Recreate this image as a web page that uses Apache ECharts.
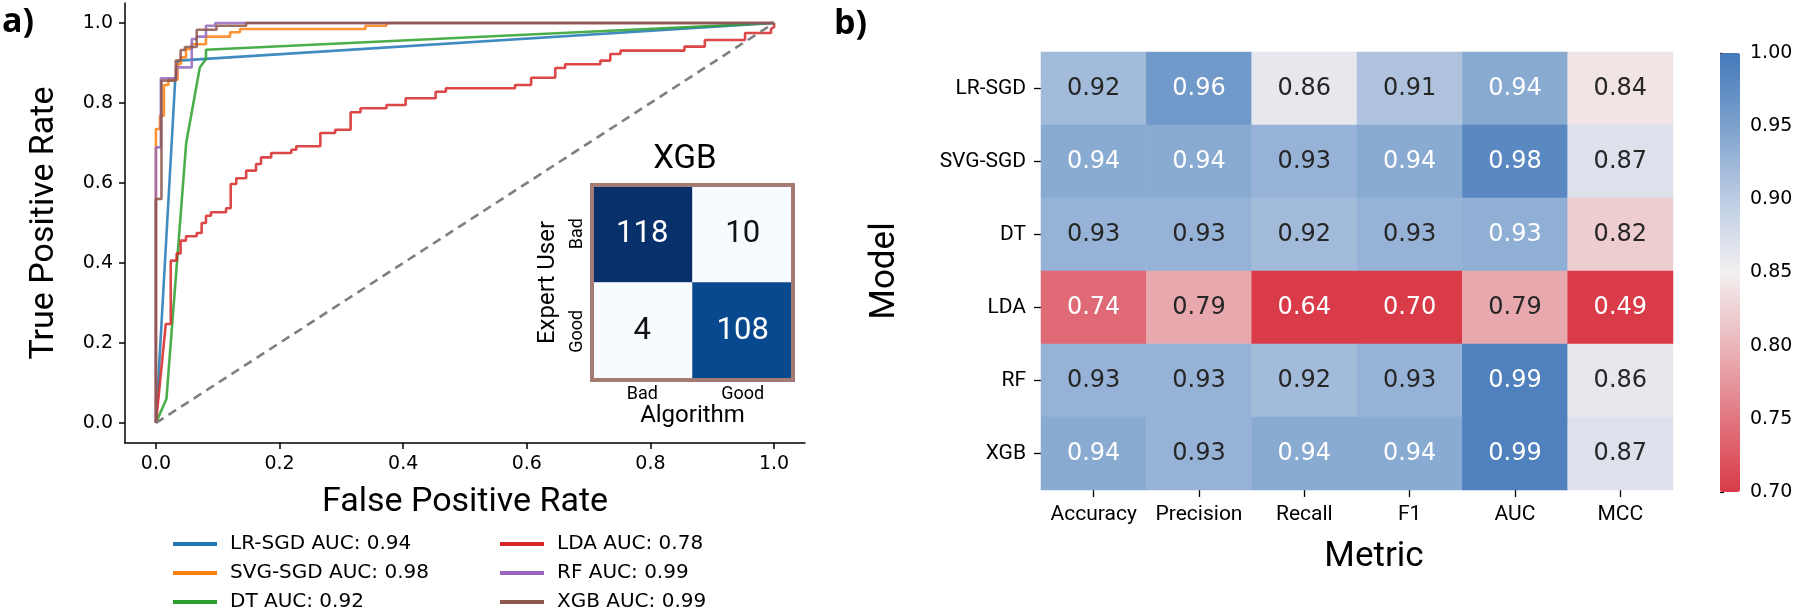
<!DOCTYPE html>
<html><head><meta charset="utf-8">
<script src="https://cdn.jsdelivr.net/npm/echarts@6/dist/echarts.min.js"></script>
<style>html,body{margin:0;padding:0;background:#fff}#c{width:1800px;height:613px}</style>
</head><body><div id="c"></div>
<script>
// ---------- ROC data (fpr / tpr vertices) ----------
const rocModels = ['LR-SGD', 'SVG-SGD', 'DT', 'LDA', 'RF', 'XGB'];
const rocAuc = [0.94, 0.98, 0.92, 0.78, 0.99, 0.99];
const rocTicks = [0, 0.2, 0.4, 0.6, 0.8, 1.0];

const lrSgdFpr = [0, 0.031, 0.036, 1];
const lrSgdTpr = [0, 0.852, 0.906, 1];

const svgSgdFpr = [0, 0, 0.0065, 0.0065, 0.013, 0.013, 0.02, 0.02, 0.035, 0.035, 0.0405, 0.0405, 0.0487, 0.0487, 0.058, 0.058, 0.081, 0.081, 0.12, 0.12, 0.136, 0.136, 0.339, 0.339, 0.373, 0.373, 1];
const svgSgdTpr = [0, 0.735, 0.735, 0.768, 0.768, 0.845, 0.845, 0.858, 0.858, 0.8975, 0.8975, 0.914, 0.914, 0.935, 0.935, 0.947, 0.947, 0.966, 0.966, 0.977, 0.977, 0.985, 0.985, 0.993, 0.993, 1.0, 1];

const dtFpr = [0, 0.017, 0.049, 0.071, 0.081, 0.081, 1];
const dtTpr = [0, 0.06, 0.70, 0.889, 0.91, 0.933, 1];

const ldaFpr = [0, 0.016, 0.024, 0.024, 0.0335, 0.0335, 0.040, 0.040, 0.0487, 0.0487, 0.066, 0.066, 0.074, 0.074, 0.081, 0.081, 0.089, 0.089, 0.1135, 0.1135, 0.121, 0.121, 0.13, 0.13, 0.146, 0.146, 0.162, 0.162, 0.170, 0.170, 0.1865, 0.1865, 0.219, 0.219, 0.227, 0.227, 0.266, 0.266, 0.290, 0.290, 0.315, 0.315, 0.331, 0.331, 0.373, 0.373, 0.404, 0.404, 0.4525, 0.4525, 0.469, 0.469, 0.581, 0.581, 0.607, 0.607, 0.646, 0.646, 0.662, 0.662, 0.719, 0.719, 0.735, 0.735, 0.7515, 0.7515, 0.855, 0.855, 0.888, 0.888, 0.953, 0.953, 0.995, 0.995, 1.0, 1.0];
const ldaTpr = [0, 0.2475, 0.2475, 0.406, 0.406, 0.424, 0.424, 0.456, 0.456, 0.467, 0.467, 0.475, 0.475, 0.5, 0.5, 0.518, 0.518, 0.527, 0.527, 0.537, 0.537, 0.5975, 0.5975, 0.612, 0.612, 0.631, 0.631, 0.6475, 0.6475, 0.664, 0.664, 0.675, 0.675, 0.683, 0.683, 0.692, 0.692, 0.725, 0.725, 0.733, 0.733, 0.777, 0.777, 0.787, 0.787, 0.795, 0.795, 0.812, 0.812, 0.828, 0.828, 0.837, 0.837, 0.845, 0.845, 0.863, 0.863, 0.8875, 0.8875, 0.897, 0.897, 0.906, 0.906, 0.9225, 0.9225, 0.931, 0.931, 0.941, 0.941, 0.9575, 0.9575, 0.975, 0.975, 0.985, 0.99, 1.0];

const rfFpr = [0, 0, 0.008, 0.008, 0.033, 0.033, 0.058, 0.058, 0.066, 0.066, 0.081, 0.081, 0.096, 0.096, 1];
const rfTpr = [0, 0.689, 0.689, 0.862, 0.862, 0.889, 0.889, 0.96, 0.96, 0.966, 0.966, 0.993, 0.993, 1.0, 1];

const xgbFpr = [0, 0, 0.009, 0.009, 0.032, 0.032, 0.040, 0.040, 0.047, 0.047, 0.066, 0.066, 0.098, 0.098, 0.146, 0.146, 1];
const xgbTpr = [0, 0.56, 0.56, 0.856, 0.856, 0.906, 0.906, 0.9325, 0.9325, 0.94, 0.94, 0.983, 0.983, 0.993, 0.993, 1.0, 1];

const chanceFpr = [0, 1];
const chanceTpr = [0, 1];

// ---------- Confusion matrix (XGB) ----------
const cmAlgorithmLabels = ['Bad', 'Good'];
const cmExpertLabels = ['Bad', 'Good'];
const cmRowBad = [118, 10];
const cmRowGood = [4, 108];

// ---------- Heatmap ----------
const metrics = ['Accuracy', 'Precision', 'Recall', 'F1', 'AUC', 'MCC'];
const models = ['LR-SGD', 'SVG-SGD', 'DT', 'LDA', 'RF', 'XGB'];
const scoresLrSgd = [0.92, 0.96, 0.86, 0.91, 0.94, 0.84];
const scoresSvgSgd = [0.94, 0.94, 0.93, 0.94, 0.98, 0.87];
const scoresDt = [0.93, 0.93, 0.92, 0.93, 0.934, 0.82];
const scoresLda = [0.74, 0.79, 0.64, 0.70, 0.79, 0.49];
const scoresRf = [0.93, 0.93, 0.92, 0.93, 0.99, 0.86];
const scoresXgb = [0.94, 0.93, 0.94, 0.94, 0.99, 0.87];
const colorbarTicks = [0.70, 0.75, 0.80, 0.85, 0.90, 0.95, 1.00];

// ---------- build ----------
const pairs = (f, t) => f.map((x, i) => [x, t[i]]);
const rocData = [pairs(lrSgdFpr, lrSgdTpr), pairs(svgSgdFpr, svgSgdTpr), pairs(dtFpr, dtTpr),
                 pairs(ldaFpr, ldaTpr), pairs(rfFpr, rfTpr), pairs(xgbFpr, xgbTpr)];
const rocColors = ['#1f77b4', '#ff7f0e', '#2ca02c', '#d62728', '#9467bd', '#8c564b'];
const rocNames = rocModels.map((m, i) => m + ' AUC: ' + rocAuc[i].toFixed(2));

const scoreRows = [scoresLrSgd, scoresSvgSgd, scoresDt, scoresLda, scoresRf, scoresXgb];
const heatData = [];
scoreRows.forEach((row, r) => row.forEach((v, c) => heatData.push([c, r, v])));
const cmRows = [cmRowBad, cmRowGood];
const cmData = [];
cmRows.forEach((row, r) => row.forEach((v, c) => cmData.push([c, r, v])));

const series = rocData.map((d, i) => ({
  type: 'line', name: rocNames[i], xAxisIndex: 0, yAxisIndex: 0, data: d,
  symbol: 'none', showSymbol: false, animation: false,
  lineStyle: { width: 2.6, color: rocColors[i], opacity: 0.85 },
  itemStyle: { color: rocColors[i] }, z: 2 + i
}));
series.push({
  type: 'line', name: 'chance', xAxisIndex: 0, yAxisIndex: 0, data: pairs(chanceFpr, chanceTpr),
  symbol: 'none', animation: false, z: 9,
  lineStyle: { width: 2.6, color: '#7f7f7f', type: [9, 6] }
});
const heatIdx = series.length;
series.push({
  type: 'heatmap', xAxisIndex: 1, yAxisIndex: 1, data: heatData, animation: false,
  label: {
    show: true,
    formatter: p => {
      const v = p.value[2];
      return (v >= 0.934 || v <= 0.76 ? '{w|' : '{d|') + v.toFixed(2) + '}';
    },
    rich: {
      w: { color: '#ffffff', fontFamily: 'DejaVu Sans', fontSize: 24 },
      d: { color: '#262626', fontFamily: 'DejaVu Sans', fontSize: 24 }
    }
  },
  emphasis: { disabled: true }
});
const cmIdx = series.length;
series.push({
  type: 'heatmap', xAxisIndex: 3, yAxisIndex: 3, data: cmData, animation: false,
  label: {
    show: true,
    formatter: p => (p.value[2] > 60 ? '{w|' : '{d|') + p.value[2] + '}',
    rich: {
      w: { color: '#ffffff', fontFamily: 'Roboto', fontSize: 31 },
      d: { color: '#111111', fontFamily: 'Roboto', fontSize: 31 }
    }
  },
  emphasis: { disabled: true }
});

const blackLine = { color: '#000', width: 1.5 };
const legendText = { fontFamily: 'DejaVu Sans', fontSize: 20, color: '#000', lineHeight: 20, padding: [0, 0, 0, 8] };
const option = {
  backgroundColor: '#ffffff',
  animation: false,
  grid: [
    { left: 125, top: 3, width: 680, height: 440 },
    { left: 1041, top: 52, width: 632, height: 438 },
    { left: 1720, top: 53, width: 20, height: 439 },
    { left: 592, top: 185, width: 201, height: 195, show: true, borderColor: '#a47b72', borderWidth: 4, backgroundColor: 'transparent', z: 10 }
  ],
  xAxis: [
    { gridIndex: 0, type: 'value', min: -0.05, max: 1.05, splitLine: { show: false },
      axisLine: { onZero: false, lineStyle: blackLine },
      axisTick: { length: 6, lineStyle: blackLine, customValues: rocTicks },
      axisLabel: { customValues: rocTicks, formatter: v => v.toFixed(1), fontFamily: 'DejaVu Sans', fontSize: 19, color: '#000', margin: 12 },
      name: 'False Positive Rate', nameLocation: 'middle', nameGap: 42,
      nameTextStyle: { fontFamily: 'Roboto', fontSize: 34, color: '#000' } },
    { gridIndex: 1, type: 'category', data: metrics, position: 'bottom',
      axisLine: { show: false }, splitLine: { show: false },
      axisTick: { show: true, interval: 0, alignWithLabel: true, length: 7, lineStyle: { color: '#000', width: 1.3 } },
      axisLabel: { interval: 0, fontFamily: 'Roboto', fontSize: 21, color: '#000', margin: 14 },
      name: 'Metric', nameLocation: 'middle', nameGap: 50,
      nameTextStyle: { fontFamily: 'Roboto', fontSize: 35, color: '#000', padding: [0, 0, 0, 34] } },
    { gridIndex: 2, type: 'value', show: false, min: 0, max: 1 },
    { gridIndex: 3, type: 'category', data: cmAlgorithmLabels, position: 'bottom',
      axisLine: { show: false }, axisTick: { show: false }, splitLine: { show: false },
      axisLabel: { interval: 0, fontFamily: 'Roboto', fontSize: 18, color: '#000', margin: 5 },
      name: 'Algorithm', nameLocation: 'middle', nameGap: 23,
      nameTextStyle: { fontFamily: 'Roboto', fontSize: 24, color: '#000' } }
  ],
  yAxis: [
    { gridIndex: 0, type: 'value', min: -0.05, max: 1.05, splitLine: { show: false },
      axisLine: { onZero: false, lineStyle: blackLine },
      axisTick: { length: 6, lineStyle: blackLine, customValues: rocTicks },
      axisLabel: { customValues: rocTicks, formatter: v => v.toFixed(1), fontFamily: 'DejaVu Sans', fontSize: 19, color: '#000', margin: 12 },
      name: 'True Positive Rate', nameLocation: 'middle', nameGap: 64, nameRotate: 90,
      nameTextStyle: { fontFamily: 'Roboto', fontSize: 34, color: '#000' } },
    { gridIndex: 1, type: 'category', data: models, inverse: true,
      axisLine: { show: false }, splitLine: { show: false },
      axisTick: { show: true, interval: 0, alignWithLabel: true, length: 7, lineStyle: { color: '#000', width: 1.3 } },
      axisLabel: { interval: 0, fontFamily: 'Roboto', fontSize: 21, color: '#000', margin: 15 },
      name: 'Model', nameLocation: 'middle', nameGap: 138, nameRotate: 90,
      nameTextStyle: { fontFamily: 'Roboto', fontSize: 35, color: '#000' } },
    { gridIndex: 2, type: 'value', min: 0.7, max: 1.0, position: 'right',
      axisLine: { show: false }, splitLine: { show: false },
      axisTick: { show: true, length: 4, lineStyle: { color: '#000', width: 1.2 }, customValues: colorbarTicks },
      axisLabel: { customValues: colorbarTicks, formatter: v => v.toFixed(2), fontFamily: 'DejaVu Sans', fontSize: 19, color: '#000', margin: 10 } },
    { gridIndex: 3, type: 'category', data: cmExpertLabels, inverse: true,
      axisLine: { show: false }, axisTick: { show: false }, splitLine: { show: false },
      axisLabel: { interval: 0, fontFamily: 'Roboto', fontSize: 18, color: '#000', rotate: 90, margin: 6 },
      name: 'Expert User', nameLocation: 'middle', nameGap: 32, nameRotate: 90,
      nameTextStyle: { fontFamily: 'Roboto', fontSize: 24, color: '#000' } }
  ],
  visualMap: [
    { type: 'continuous', seriesIndex: heatIdx, min: 0.7, max: 1.0, orient: 'vertical',
      left: 1720, top: 53, itemWidth: 20, itemHeight: 439, padding: 0,
      calculable: false, hoverLink: false, text: null, showLabel: false,
      handleSize: 0, indicatorSize: 0, indicatorStyle: { opacity: 0 },
      inRange: { color: ['#d93b48', '#e17680', '#eab6ba', '#f2eff0', '#bccce3', '#7ca1cd', '#4479bb'] },
      outOfRange: { color: ['#d93b48'] } },
    { type: 'continuous', seriesIndex: cmIdx, min: 10, max: 118, show: false,
      inRange: { color: ['#f7fbff', '#deebf7', '#c6dbef', '#9ecae1', '#6baed6', '#4292c6', '#2171b5', '#08519c', '#08306b'] },
      outOfRange: { color: ['#f7fbff'] } }
  ],
  legend: [
    { orient: 'vertical', left: 173, top: 534, height: 200, padding: 0, itemGap: 9, itemWidth: 44, itemHeight: 4,
      icon: 'rect', data: rocNames.slice(0, 3), selectedMode: false, textStyle: legendText },
    { orient: 'vertical', left: 500, top: 534, height: 200, padding: 0, itemGap: 9, itemWidth: 44, itemHeight: 4,
      icon: 'rect', data: rocNames.slice(3), selectedMode: false, textStyle: legendText }
  ],
  graphic: [
    { type: 'text', x: 2, y: 22, style: { text: 'a)', fontFamily: 'Open Sans', fontWeight: 'bold', fontSize: 34, fill: '#000', verticalAlign: 'middle' } },
    { type: 'text', x: 834, y: 24, style: { text: 'b)', fontFamily: 'Open Sans', fontWeight: 'bold', fontSize: 34, fill: '#000', verticalAlign: 'middle' } },
    { type: 'text', x: 685, y: 160, style: { text: 'XGB', fontFamily: 'Roboto', fontSize: 33, fill: '#000', align: 'center', verticalAlign: 'middle' } }
  ],
  series: series
};
const chart = echarts.init(document.getElementById('c'), null, { renderer: 'canvas' });
chart.setOption(option);
</script></body></html>
